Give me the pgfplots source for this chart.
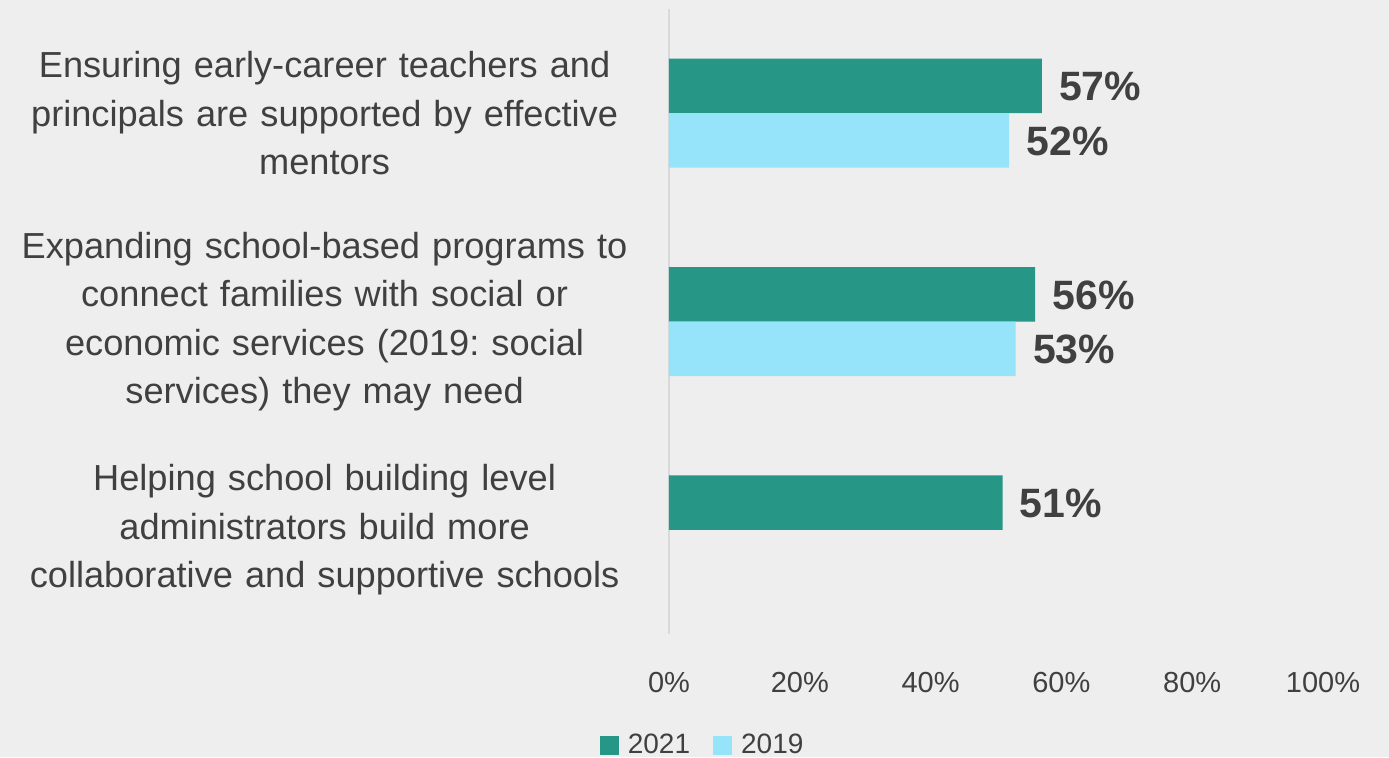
\documentclass[border=0pt]{standalone}
\usepackage{pgfplots}
\pgfplotsset{compat=1.18}
\usepackage{fontspec}
\setmainfont{Liberation Sans}
\frenchspacing
\definecolor{bg}{HTML}{EEEEEE}
\definecolor{tealA}{HTML}{269687}
\definecolor{cyanB}{HTML}{96E4FA}
\definecolor{txt}{HTML}{404040}
\definecolor{axl}{HTML}{D9D9D9}
\begin{document}
\begin{tikzpicture}
\path[use as bounding box, fill=bg] (-334.5pt,-61.5pt) rectangle (360pt,317pt);
\begin{axis}[
  at={(0,0)}, anchor=south west,
  scale only axis, width=327pt, height=312.5pt,
  xbar, bar width=27.25pt,
  xmin=0, xmax=100, ymin=-0.5, ymax=2.5, y dir=reverse,
  axis lines*=left,
  x axis line style={draw=none},
  y axis line style={draw=axl, line width=0.8pt, -},
  major tick length=0pt,
  /pgf/number format/assume math mode=true,
  ytick={0,1,2},
  yticklabels={
    {Ensuring early-career teachers and\\principals are supported by effective\\mentors},
    {Expanding school-based programs to\\connect families with social or\\economic services (2019: social\\services) they may need},
    {Helping school building level\\administrators build more\\collaborative and supportive schools}},
  yticklabel style={align=center, text width=320pt, anchor=east, inner sep=0pt, xshift=-12pt,
    font=\fontsize{18.1}{24.25}\selectfont, text=txt},
  xtick={0,20,40,60,80,100},
  xticklabels={0\%,20\%,40\%,60\%,80\%,100\%},
  xticklabel style={font=\fontsize{14.5}{17}\selectfont, text=txt, anchor=center, inner sep=0pt, yshift=-24.5pt},
  nodes near coords={\pgfmathprintnumber[assume math mode=true]{\pgfplotspointmeta}\%},
  nodes near coords style={font=\bfseries\fontsize{20.5}{22}\selectfont, text=txt, anchor=west, inner sep=0pt, xshift=8.5pt, yshift=-0.5pt},
  legend style={at={(0.053,-0.178)}, anchor=center, draw=none, fill=none,
    font=\fontsize{14}{16}\selectfont, text=txt,
    /tikz/every odd column/.append style={column sep=2.5pt},
    /tikz/every even column/.append style={column sep=9.5pt}},
  legend columns=2,
  legend image code/.code={\fill[#1] (0pt,-4.75pt) rectangle (9.5pt,4.75pt);},
  clip=false,
]
\addplot[fill=tealA, draw=none, bar shift=13.625pt] coordinates {(57,0) (56,1) (51,2)};
\addplot[fill=cyanB, draw=none, bar shift=-13.625pt] coordinates {(52,0) (53,1)};
\legend{2021,2019}
\end{axis}
\end{tikzpicture}
\end{document}
